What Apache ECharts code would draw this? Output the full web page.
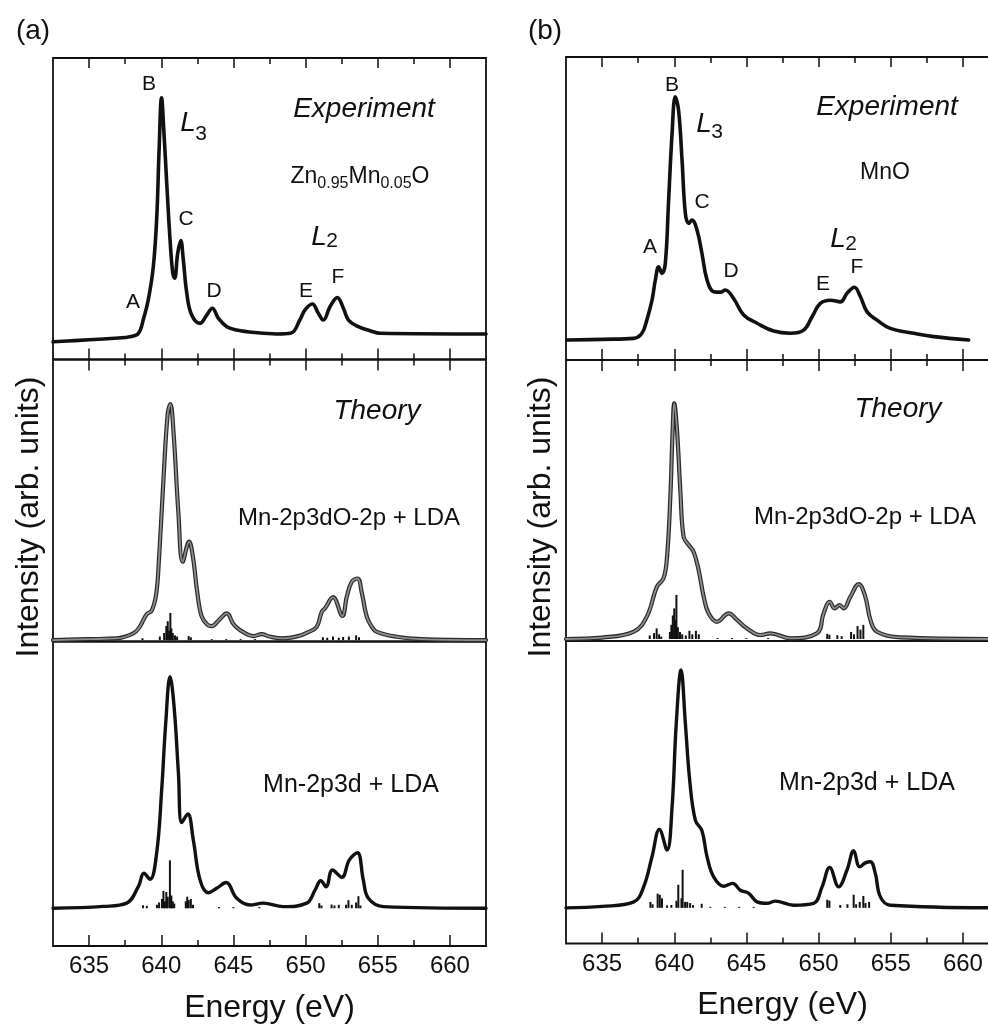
<!DOCTYPE html>
<html><head><meta charset="utf-8">
<script src="https://cdn.jsdelivr.net/npm/echarts@6/dist/echarts.min.js"></script>
<style>html,body{margin:0;padding:0;background:#fff}#c{width:988px;height:1028px}</style>
</head><body><div id="c"></div>
<script>
// ---- data ----
const majorTicks = [635, 640, 645, 650, 655, 660];
const minorTicks = [637.5, 642.5, 647.5, 652.5, 657.5];

// (a) Zn0.95Mn0.05O experiment
const expA = [[632.5,-3.3],[634.0,-2.8],[636.0,-2.1],[637.5,-1.5],[638.3,-0.4],[638.55,1.7],[638.75,5.9],[639.1,14.4],[639.45,28.5],[639.69,49.6],[639.85,77.9],[640.02,100],[640.19,84.9],[640.38,63.8],[640.61,39.8],[640.8,25.7],[640.93,23.6],[641.14,34.2],[641.35,39.5],[641.53,31.3],[641.77,17.2],[642.11,8.0],[642.69,4.5],[643.15,8.0],[643.54,10.9],[643.96,6.6],[644.54,3.1],[645.23,1.7],[646.5,0.6],[648.0,0],[649.0,0.4],[649.6,5.9],[649.96,10.2],[650.47,12.7],[650.88,8.8],[651.23,5.9],[651.7,11.6],[652.2,15.4],[652.62,10.9],[652.97,5.9],[653.66,3.1],[654.47,1.4],[655.16,0.3],[662.5,0]];
// (a) Mn-2p3dO-2p + LDA
const ldaOA = [[632.5,0],[635.0,0.4],[636.9,0.7],[638.06,2.8],[638.5,5.5],[638.76,8.5],[639.0,11.0],[639.34,12.5],[639.65,19.5],[639.85,35],[640.15,67.8],[640.45,96.1],[640.63,100],[640.84,89.0],[641.19,53.7],[641.49,33.2],[641.93,41.7],[642.2,35],[642.5,20],[642.8,10],[643.2,6.5],[643.5,5.9],[644.0,8.5],[644.54,11.3],[645.0,6.8],[645.46,4.2],[646.4,1.7],[646.96,2.5],[647.5,1.5],[648.4,0.7],[649.5,1.7],[650.2,3.4],[650.77,5.6],[651.12,12.0],[651.35,13.5],[651.9,18.2],[652.55,10.2],[652.85,18.3],[653.2,24.7],[653.6,26.1],[653.9,19.8],[654.24,9.9],[654.59,5.6],[654.93,3.5],[656.3,1.4],[658,0.4],[662.5,0]];
const sticksOA = [[638.7,0.8],[639.9,1.5],[640.2,3],[640.35,6],[640.45,8],[640.55,4],[640.63,11.5],[640.7,5],[640.8,3],[640.95,2],[641.1,1.5],[641.9,1.7],[642.05,1.2],[643.5,0.4],[644.5,0.4],[645.5,0.4],[646.5,0.4],[651.2,1.2],[651.5,1.0],[651.9,1.5],[652.3,1.0],[652.6,1.3],[653.0,1.5],[653.5,2.0],[653.7,1.2]];
// (a) Mn-2p3d + LDA
const ldaA = [[632.5,0],[636.0,0.8],[637.6,2.2],[638.41,9.3],[638.8,15.1],[639.22,12.5],[639.68,23.7],[640.03,51.1],[640.31,79.9],[640.61,100],[640.89,87.0],[641.19,58.3],[641.42,37.0],[641.84,40.7],[642.22,29.5],[642.69,12.2],[643.26,6.7],[643.84,8.6],[644.49,11.1],[645.23,4.3],[646.15,1.4],[647.07,2.2],[648.46,0.7],[650.08,2.2],[650.66,7.9],[651.05,11.9],[651.42,9.3],[651.86,16.5],[652.51,13.4],[653.03,20.9],[653.59,24.0],[654.0,12.2],[654.35,4.3],[655.39,0.7],[662.5,0]];
const sticksA = [[638.74,1.3],[639.0,1],[639.7,1.5],[639.85,2.5],[640.05,4],[640.15,7.5],[640.25,3],[640.35,7],[640.45,5],[640.6,20.7],[640.7,5.5],[640.8,3],[640.9,2],[641.7,3],[641.8,5],[641.9,3.5],[642.05,4],[642.2,1.5],[644.0,0.5],[645.0,0.5],[646.8,0.5],[650.95,2.2],[651.1,1.2],[651.8,1.6],[652.0,1.2],[652.3,1.5],[652.8,1.5],[652.97,3.5],[653.2,1.5],[653.5,2.5],[653.66,5.2],[653.8,1.2]];

// (b) MnO experiment
const expB = [[632.57,0],[635,0.3],[637.2,0.7],[637.76,2.8],[638.1,8.2],[638.46,16.4],[638.69,24.7],[638.92,30.1],[639.15,27.4],[639.38,31.5],[639.61,57.5],[639.85,85.0],[640.07,100],[640.3,94.5],[640.54,74.0],[640.77,52.1],[641.0,48.0],[641.23,49.3],[641.58,45.2],[641.92,35.6],[642.27,24.7],[642.73,19.9],[643.2,19.7],[643.54,20.6],[644.11,17.1],[644.81,10.3],[645.74,6.9],[646.89,3.7],[648.05,2.8],[648.97,4.1],[649.55,9.6],[650.12,15.1],[650.81,16.4],[651.51,15.7],[651.97,19.2],[652.48,21.7],[652.9,17.8],[653.36,11.6],[654.05,8.2],[654.97,4.8],[656.59,2.8],[657.98,1.4],[660.4,0]];
// (b) Mn-2p3dO-2p + LDA
const ldaOB = [[632.5,0],[635,0.6],[637.2,3.1],[638.1,9.5],[638.8,22.2],[639.26,25.8],[639.5,34.9],[639.73,60.4],[639.89,88.7],[640.0,100],[640.19,88.7],[640.42,63.2],[640.65,43.4],[641.0,39.9],[641.34,37.0],[641.69,29.3],[642.04,17.9],[642.38,10.9],[642.96,7.3],[643.77,10.9],[644.35,8.1],[645.04,4.5],[645.97,1.7],[646.66,2.4],[648.05,0.3],[649.89,2.4],[650.35,10.9],[650.77,15.8],[651.11,13.0],[651.46,14.4],[651.74,13.0],[652.2,17.9],[652.78,23.3],[653.24,17.9],[653.59,8.1],[654.05,3.1],[655.67,0.7],[662.5,0]];
const sticksOB = [[638.3,1.5],[638.6,2.5],[638.78,4.5],[638.95,2],[639.1,1],[639.7,3],[639.8,6],[639.9,10],[640.0,13],[640.08,8],[640.15,18.7],[640.25,5],[640.4,3],[640.55,2],[640.8,1.5],[641.05,3.5],[641.25,2],[641.5,3.5],[641.7,2],[643,0.4],[644,0.4],[645,0.4],[646.5,0.4],[650.6,2.2],[650.75,1.8],[651.3,1.6],[651.6,1.2],[652.25,3],[652.45,2],[652.7,5.5],[652.9,4],[653.1,6]];
// (b) Mn-2p3d + LDA
const ldaB = [[632.5,0],[635,0.6],[637.2,2.5],[637.88,8.8],[638.46,21.5],[638.97,33.0],[639.5,24.3],[639.85,42.5],[640.14,77.6],[640.47,100],[640.77,77.6],[641.07,53.7],[641.46,36.9],[641.92,32.4],[642.27,21.5],[642.73,13.0],[643.42,9.1],[644.05,10.3],[644.58,7.4],[645.16,6.1],[645.74,2.5],[646.43,1.9],[647.0,2.8],[648.27,1.1],[649.66,1.9],[650.24,8.8],[650.77,17.0],[651.39,8.8],[651.97,15.9],[652.43,24.0],[652.85,17.2],[653.24,18.9],[653.59,19.4],[653.93,14.5],[654.28,4.6],[654.97,1.1],[662.5,0]];
const sticksB = [[638.35,2.5],[638.5,1.5],[638.85,6],[639.0,5.5],[639.15,4],[639.5,1],[639.8,1.2],[640.15,3],[640.28,9.7],[640.5,4],[640.58,16],[640.75,2.5],[640.9,2.5],[641.1,2],[641.3,1.2],[641.9,1.7],[642.5,0.4],[643.5,0.4],[644.5,0.4],[645.5,0.4],[650.6,3.4],[650.75,3],[651.5,1.2],[652.0,1.5],[652.43,5.5],[652.6,1.5],[652.85,2.5],[653.1,5],[653.25,2],[653.5,2.5]];

// ---- layout / styling ----
const FONT = '"Liberation Sans", Arial, Helvetica, sans-serif';
const INK = '#111';
const X_MIN = 632.5, X_MAX = 662.5;
const layout = [
  {left:53, width:433, rows:[58,359.5,641.5,946], yr:[[-10.8,116.8],[-0.6,118.9],[-16.3,115.2]], labelMargin:8},
  {left:566, width:433, rows:[57,360,641,943.5], yr:[[-8.2,116.4],[-0.85,118.4],[-15.0,112.2]], labelMargin:9}
];
const panelData = [
  {exp:expA, mid:ldaOA, midSticks:sticksOA, bot:ldaA, botSticks:sticksA},
  {exp:expB, mid:ldaOB, midSticks:sticksOB, bot:ldaB, botSticks:sticksB}
];

const grids=[], xAxes=[], yAxes=[], series=[];
function addX(gi, pos, ticks, len, extra){
  const ax = {type:'value', gridIndex:gi, position:pos, min:X_MIN, max:X_MAX,
    axisLine:{show:false, onZero:false}, splitLine:{show:false}, axisLabel:{show:false},
    axisTick:{show:true, inside:true, length:len, customValues:ticks, lineStyle:{color:INK, width:1.5}}};
  if (extra) Object.assign(ax, extra);
  xAxes.push(ax); return xAxes.length-1;
}
layout.forEach((L,p)=>{
  const D = panelData[p];
  const gIdx = [];
  for (let r=0;r<3;r++){
    grids.push({left:L.left, top:L.rows[r], width:L.width, height:L.rows[r+1]-L.rows[r], show:true,
      borderColor:INK, borderWidth:1.8, backgroundColor:'transparent', containLabel:false, outerBoundsMode:'none'});
    const gi = grids.length-1; gIdx.push(gi);
    yAxes.push({type:'value', gridIndex:gi, min:L.yr[r][0], max:L.yr[r][1], show:false});
  }
  const xe = addX(gIdx[0],'bottom',majorTicks,11);
  addX(gIdx[0],'bottom',minorTicks,6);
  addX(gIdx[0],'top',majorTicks,10);
  addX(gIdx[0],'top',minorTicks,6);
  const xm = addX(gIdx[1],'top',majorTicks,11);
  addX(gIdx[1],'top',minorTicks,6);
  const xb = addX(gIdx[2],'bottom',majorTicks,11,{
    axisLabel:{show:true, customValues:majorTicks, margin:L.labelMargin, fontSize:24, color:INK, fontFamily:FONT},
    name:'Energy (eV)', nameLocation:'middle', nameGap:46,
    nameTextStyle:{fontSize:32, color:INK, fontFamily:FONT}
  });
  addX(gIdx[2],'bottom',minorTicks,6);

  const line = (data, xi, yi, color, w, z) => ({type:'line', data, xAxisIndex:xi, yAxisIndex:yi, showSymbol:false, symbol:'none', smooth:0.4, silent:true, z, lineStyle:{color, width:w, join:'round', cap:'round'}});
  const sticks = (data, xi, yi) => ({type:'bar', data, xAxisIndex:xi, yAxisIndex:yi, barWidth:2, silent:true, z:1, itemStyle:{color:INK}});
  series.push(line(D.exp, xe, gIdx[0], INK, 3.6, 3));
  series.push(sticks(D.midSticks, xm, gIdx[1]));
  series.push(line(D.mid, xm, gIdx[1], '#2a2a2a', 4.2, 3));
  series.push(line(D.mid, xm, gIdx[1], '#8e8e8e', 1.8, 4));
  series.push(sticks(D.botSticks, xb, gIdx[2]));
  series.push(line(D.bot, xb, gIdx[2], INK, 3.4, 3));
});

// ---- annotations ----
const sub = {n:{fontSize:23, lineHeight:30, fontFamily:FONT, color:INK}, s:{fontSize:16, lineHeight:16, verticalAlign:'bottom', fontFamily:FONT, color:INK}};
const texts = [
  {t:'(a)', x:33, y:31, s:28}, {t:'(b)', x:545, y:31, s:28},
  {t:'B', x:149, y:84, s:21}, {t:'A', x:133, y:302, s:21}, {t:'C', x:186, y:219, s:21},
  {t:'D', x:214, y:291, s:21}, {t:'E', x:306, y:291, s:21}, {t:'F', x:338, y:277, s:21},
  {t:'L', x:188, y:123, s:28, i:true}, {t:'3', x:201, y:134, s:21},
  {t:'L', x:319, y:237, s:28, i:true}, {t:'2', x:332, y:241, s:21},
  {t:'Experiment', x:364, y:109, s:28, i:true},
  {t:'{n|Zn}{s|0.95}{n|Mn}{s|0.05}{n|O}', x:360, y:177, s:23, rich:sub},
  {t:'Theory', x:377, y:411, s:28, i:true},
  {t:'Mn-2p3dO-2p + LDA', x:349, y:518, s:24},
  {t:'Mn-2p3d + LDA', x:351, y:785, s:25},
  {t:'B', x:672, y:85, s:21}, {t:'A', x:650, y:247, s:21}, {t:'C', x:702, y:202, s:21},
  {t:'D', x:731, y:271, s:21}, {t:'E', x:823, y:284, s:21}, {t:'F', x:857, y:267, s:21},
  {t:'L', x:704, y:124, s:28, i:true}, {t:'3', x:717, y:132, s:21},
  {t:'L', x:838, y:239, s:28, i:true}, {t:'2', x:851, y:244, s:21},
  {t:'Experiment', x:887, y:107, s:28, i:true},
  {t:'MnO', x:885, y:173, s:23},
  {t:'Theory', x:898, y:409, s:28, i:true},
  {t:'Mn-2p3dO-2p + LDA', x:865, y:517, s:24},
  {t:'Mn-2p3d + LDA', x:867, y:783, s:25},
  {t:'Intensity (arb. units)', x:29, y:517, s:32, r:Math.PI/2},
  {t:'Intensity (arb. units)', x:541, y:517, s:32, r:Math.PI/2}
];
const graphic = texts.map(o=>({type:'text', x:o.x, y:o.y, rotation:o.r||0, silent:true, z:10,
  style:{text:o.t, fontSize:o.s, fontFamily:FONT, fontStyle:o.i?'italic':'normal', fill:INK,
    align:'center', verticalAlign:'middle', textAlign:'center', textVerticalAlign:'middle', rich:o.rich}}));

const chart = echarts.init(document.getElementById('c'), null, {renderer:'canvas'});
chart.setOption({animation:false, backgroundColor:'#fff', grid:grids, xAxis:xAxes, yAxis:yAxes, series, graphic});
</script></body></html>
